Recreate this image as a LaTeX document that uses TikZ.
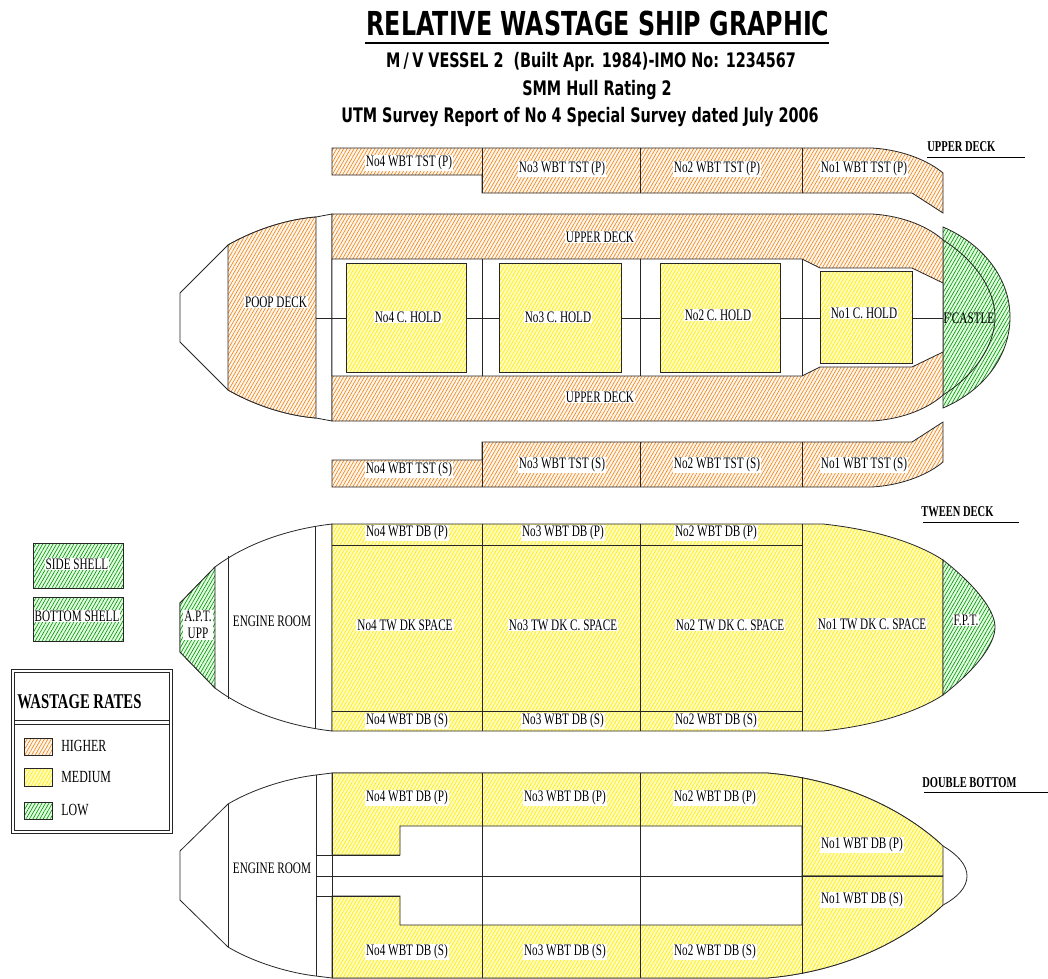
\documentclass[tikz,border=0pt]{standalone}
\usepackage{fontspec}
\usetikzlibrary{patterns.meta}
\newfontfamily\labelfont[FakeStretch=0.7]{Liberation Serif}
\newfontfamily\titlefont[FakeStretch=0.72]{DejaVu Sans}
\tikzset{
  higher/.style={preaction={fill=orange!8}, preaction={pattern={Lines[angle=60,distance=3pt,line width=0.6pt]}, pattern color=orange!75!brown}},
  medium/.style={preaction={fill=yellow!25}, preaction={pattern={Lines[angle=60,distance=3pt,line width=0.6pt]}, pattern color=yellow!85!orange}},
  low/.style={preaction={fill=green!12}, preaction={pattern={Lines[angle=60,distance=3pt,line width=0.6pt]}, pattern color=green!55!black}},
  hull/.style={draw=black!85, line width=0.8pt},
  tag/.style={font=\labelfont\fontsize{16}{16}\selectfont, fill=white, inner sep=1pt},
  heading/.style={font=\labelfont\bfseries\fontsize{15}{15}\selectfont, anchor=west, inner sep=0pt},
  maintitle/.style={font=\titlefont\bfseries\fontsize{33}{33}\selectfont, inner sep=0pt},
  subtitle/.style={font=\titlefont\bfseries\fontsize{20}{20}\selectfont, inner sep=0pt},
}
\begin{document}
\begin{tikzpicture}[x=1pt, y=-1pt, line width=0.8pt]
  \useasboundingbox (0,0) rectangle (1048,978);

  % title block
  \node[maintitle] (title) at (598,23) {RELATIVE WASTAGE SHIP GRAPHIC};
  \draw[line width=1.2pt] (365,43) -- (829,43);
  \node[subtitle] (vessel) at (591,62) {M\,/\,V VESSEL 2\ \ (Built Apr. 1984)-IMO No: 1234567};
  \node[subtitle] (rating) at (597,90) {SMM Hull Rating 2};
  \node[subtitle] (survey) at (580,117) {UTM Survey Report of No 4 Special Survey dated July 2006};

  % ---------------- upper deck ----------------
  \node[heading] (udhead) at (927,147) {UPPER DECK};
  \draw (927,157) -- (1025,157);
  \draw[higher, hull] (332,148) -- (872,148) .. controls (905,150) and (930,162) .. (943,173)
    -- (943,213) -- (912,193) -- (482,193) -- (482,175) -- (332,175) -- cycle;
  \draw[hull] (482,148) -- (482,193) (640,148) -- (640,193) (802,148) -- (802,193);
  \draw[higher, hull] (332,487) -- (872,487) .. controls (905,485) and (930,473) .. (943,462)
    -- (943,422) -- (912,442) -- (482,442) -- (482,460) -- (332,460) -- cycle;
  \draw[hull] (482,442) -- (482,487) (640,442) -- (640,487) (802,442) -- (802,487);

  \draw[hull, fill=white] (180,293) -- (228,245) .. controls (258,228) and (290,219) .. (316,217) -- (332,214)
    -- (332,421) -- (316,418) .. controls (290,416) and (258,407) .. (228,390) -- (180,342) -- cycle;
  \draw[higher, hull] (228,245) .. controls (258,228) and (290,219) .. (316,217)
    -- (316,418) .. controls (290,416) and (258,407) .. (228,390) -- cycle;
  \draw[low, hull] (943,227) .. controls (985,245) and (1010,280) .. (1010,317)
    .. controls (1010,355) and (985,390) .. (943,408) -- cycle;
  \draw[higher, hull] (332,214) -- (872,214) .. controls (905,216) and (930,228) .. (943,240)
    -- (943,395) .. controls (930,407) and (905,419) .. (872,421) -- (332,421) -- cycle;
  \draw[hull, fill=white] (332,259) -- (802,259) -- (820,268) -- (912,268) -- (943,283)
    -- (943,352) -- (912,367) -- (820,367) -- (802,376) -- (332,376) -- cycle;
  \draw[hull] (943,240) .. controls (975,260) and (995,290) .. (995,317)
    .. controls (995,345) and (975,375) .. (943,395);
  \draw[hull] (482,259) -- (482,376) (640,259) -- (640,376) (802,259) -- (802,376);
  \draw[medium, hull] (346,263) rectangle (466,372);
  \draw[medium, hull] (499,263) rectangle (621,372);
  \draw[medium, hull] (660,263) rectangle (780,372);
  \draw[medium, hull] (820,271) rectangle (912,363);
  \draw[hull] (316,318) -- (346,318) (466,318) -- (499,318) (621,318) -- (660,318)
    (780,318) -- (820,318) (912,318) -- (943,318);

  \node[tag] (tstp4) at (409,163) {No4 WBT TST (P)};
  \node[tag] (tstp3) at (562,169) {No3 WBT TST (P)};
  \node[tag] (tstp2) at (717,169) {No2 WBT TST (P)};
  \node[tag] (tstp1) at (864,169) {No1 WBT TST (P)};
  \node[tag] (tsts4) at (409,470) {No4 WBT TST (S)};
  \node[tag] (tsts3) at (562,465) {No3 WBT TST (S)};
  \node[tag] (tsts2) at (717,465) {No2 WBT TST (S)};
  \node[tag] (tsts1) at (864,465) {No1 WBT TST (S)};
  \node[tag] (udp) at (600,237) {UPPER DECK};
  \node[tag] (uds) at (600,397) {UPPER DECK};
  \node[tag] (poop) at (276,302) {POOP DECK};
  \node[tag] (hold4) at (408,317) {No4 C. HOLD};
  \node[tag] (hold3) at (558,317) {No3 C. HOLD};
  \node[tag] (hold2) at (718,315) {No2 C. HOLD};
  \node[tag] (hold1) at (864,313) {No1 C. HOLD};
  \node[tag, fill=none] (fcastle) at (969,318) {F'CASTLE};

  % ---------------- tween deck ----------------
  \node[heading] (twhead) at (921,512) {TWEEN DECK};
  \draw (923,522) -- (1019,522);
  \draw[hull, fill=white] (180,603) -- (215,567) .. controls (240,548) and (280,530) .. (332,524)
    -- (332,731) .. controls (280,725) and (240,707) .. (215,688) -- (180,652) -- cycle;
  \draw[low, hull] (180,603) -- (215,567) -- (215,688) -- (180,652) -- cycle;
  \draw[medium, hull] (332,524) -- (823,524) .. controls (880,530) and (920,545) .. (943,560)
    -- (943,695) .. controls (920,710) and (880,725) .. (823,731) -- (332,731) -- cycle;
  \draw[low, hull] (943,560) .. controls (975,585) and (995,610) .. (995,627)
    .. controls (995,645) and (975,670) .. (943,695) -- cycle;
  \draw[hull] (228,556) -- (228,699) (315,527) -- (315,728);
  \draw[hull] (482,524) -- (482,731) (640,524) -- (640,731) (802,524) -- (802,731);
  \draw[hull] (332,545) -- (802,545) (332,711) -- (802,711);

  \node[tag] (dbp4) at (407,533) {No4 WBT DB (P)};
  \node[tag] (dbp3) at (563,533) {No3 WBT DB (P)};
  \node[tag] (dbp2) at (716,533) {No2 WBT DB (P)};
  \node[tag] (dbs4) at (407,721) {No4 WBT DB (S)};
  \node[tag] (dbs3) at (563,721) {No3 WBT DB (S)};
  \node[tag] (dbs2) at (716,721) {No2 WBT DB (S)};
  \node[tag] (tw4) at (405,625) {No4 TW DK SPACE};
  \node[tag] (tw3) at (563,625) {No3 TW DK C. SPACE};
  \node[tag] (tw2) at (730,625) {No2 TW DK C. SPACE};
  \node[tag] (tw1) at (872,624) {No1 TW DK C. SPACE};
  \node[tag] (fpt) at (966,620) {F.P.T.};
  \node[tag] (twengine) at (272,621) {ENGINE ROOM};
  \node[tag, align=center, font=\labelfont\fontsize{16}{17}\selectfont] (apt) at (198,625) {A.P.T.\\UPP};

  % ---------------- legend ----------------
  \draw[low, hull] (33,543) rectangle (123,588);
  \node[tag] (side) at (77,564) {SIDE SHELL};
  \draw[low, hull] (33,597) rectangle (123,641);
  \node[tag] (bottom) at (77,616) {BOTTOM SHELL};
  \draw[hull] (11,669) rectangle (172,833);
  \draw[hull] (14,672) rectangle (169,830);
  \draw[hull] (14,720) -- (169,720) (14,724) -- (169,724);
  \node[heading, font=\labelfont\bfseries\fontsize{21}{21}\selectfont] (rates) at (17,702) {WASTAGE RATES};
  \draw[higher, hull] (24,738) rectangle (52,755);
  \draw[medium, hull] (24,768) rectangle (52,786);
  \draw[low, hull] (24,802) rectangle (52,819);
  \node[tag, anchor=west, font=\labelfont\fontsize{17}{17}\selectfont] (khigh) at (60,746) {HIGHER};
  \node[tag, anchor=west, font=\labelfont\fontsize{17}{17}\selectfont] (kmed) at (60,777) {MEDIUM};
  \node[tag, anchor=west, font=\labelfont\fontsize{17}{17}\selectfont] (klow) at (60,810) {LOW};

  % ---------------- double bottom ----------------
  \node[heading] (dbhead) at (922,783) {DOUBLE BOTTOM};
  \draw (924,792) -- (1048,792);
  \draw[hull, fill=white] (180,851) -- (228,804) .. controls (255,788) and (290,778) .. (316,775) -- (332,773)
    -- (767,773) .. controls (850,780) and (910,815) .. (943,846)
    .. controls (958,855) and (967,865) .. (967,876) .. controls (967,887) and (958,897) .. (943,905)
    .. controls (910,936) and (850,971) .. (767,978) -- (332,978) -- (316,976)
    .. controls (290,973) and (255,963) .. (228,947) -- (180,900) -- cycle;
  \draw[medium, hull] (332,773) -- (767,773) .. controls (850,780) and (910,815) .. (943,846)
    -- (943,876) -- (802,876) -- (802,826) -- (400,826) -- (400,855) -- (332,855) -- cycle;
  \draw[medium, hull] (332,978) -- (767,978) .. controls (850,971) and (910,936) .. (943,905)
    -- (943,876) -- (802,876) -- (802,925) -- (400,925) -- (400,896) -- (332,896) -- cycle;
  \draw[hull] (228,804) -- (228,947) (316,775) -- (316,976) (332,773) -- (332,978);
  \draw[hull] (316,855) -- (400,855) (316,896) -- (400,896) (316,876) -- (943,876);
  \draw[hull] (482,773) -- (482,978) (640,773) -- (640,978) (802,777) -- (802,974);

  \node[tag] (bp4) at (407,798) {No4 WBT DB (P)};
  \node[tag] (bp3) at (565,798) {No3 WBT DB (P)};
  \node[tag] (bp2) at (715,798) {No2 WBT DB (P)};
  \node[tag] (bp1) at (862,845) {No1 WBT DB (P)};
  \node[tag] (bs1) at (862,900) {No1 WBT DB (S)};
  \node[tag] (bs4) at (407,952) {No4 WBT DB (S)};
  \node[tag] (bs3) at (565,952) {No3 WBT DB (S)};
  \node[tag] (bs2) at (715,952) {No2 WBT DB (S)};
  \node[tag] (dbengine) at (272,868) {ENGINE ROOM};
\end{tikzpicture}
\end{document}
